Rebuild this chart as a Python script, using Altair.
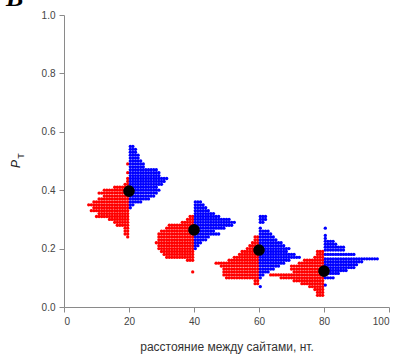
import altair as alt
import pandas as pd

# Site spacing (nt) for each group of measurements
distances = [20, 40, 60, 80]
# Mean P_T for each spacing
mean_pt = [0.397, 0.264, 0.195, 0.123]

# Dot histograms: P_T bin levels and number of dots per bin
red_levels = [
    [0.49, 0.46, 0.44, 0.43, 0.42, 0.41, 0.40, 0.39, 0.38, 0.37, 0.36, 0.35,
     0.34, 0.33, 0.32, 0.31, 0.30, 0.29, 0.28, 0.27, 0.26, 0.25, 0.24],
    [0.31, 0.30, 0.29, 0.28, 0.27, 0.26, 0.25, 0.24, 0.23, 0.22, 0.21, 0.20,
     0.19, 0.18, 0.17, 0.16, 0.12],
    [0.24, 0.23, 0.22, 0.21, 0.20, 0.19, 0.18, 0.17, 0.16, 0.15, 0.14, 0.13,
     0.12, 0.11, 0.10, 0.09, 0.08],
    [0.19, 0.18, 0.17, 0.16, 0.15, 0.14, 0.13, 0.12, 0.11, 0.10, 0.09, 0.08,
     0.07, 0.06, 0.05, 0.04],
]
red_counts = [
    [1, 1, 1, 1, 2, 6, 10, 12, 10, 12, 14, 16, 14, 15, 12, 13, 8, 6, 5, 2, 2, 2, 1],
    [2, 3, 5, 10, 11, 13, 14, 14, 14, 15, 14, 14, 13, 12, 11, 3, 1],
    [2, 2, 3, 4, 5, 7, 8, 10, 12, 17, 15, 14, 14, 14, 13, 2, 2],
    [3, 3, 4, 8, 10, 13, 13, 12, 21, 17, 12, 9, 6, 4, 3, 3],
]
blue_levels = [
    [0.55, 0.54, 0.53, 0.52, 0.51, 0.50, 0.49, 0.48, 0.47, 0.46, 0.45, 0.44,
     0.43, 0.42, 0.41, 0.40, 0.39, 0.38, 0.37, 0.36, 0.35, 0.34],
    [0.36, 0.35, 0.34, 0.33, 0.32, 0.31, 0.30, 0.29, 0.28, 0.27, 0.26, 0.25,
     0.24, 0.23, 0.22, 0.21, 0.20],
    [0.31, 0.30, 0.29, 0.27, 0.26, 0.25, 0.24, 0.23, 0.22, 0.21, 0.20, 0.19,
     0.18, 0.17, 0.16, 0.15, 0.14, 0.13, 0.12, 0.11, 0.10, 0.07],
    [0.27, 0.245, 0.235, 0.225, 0.215, 0.205, 0.195, 0.18, 0.165, 0.155, 0.145,
     0.135, 0.125, 0.115, 0.10, 0.075],
]
blue_counts = [
    [2, 3, 3, 4, 4, 5, 6, 6, 11, 12, 12, 15, 14, 13, 11, 12, 11, 10, 8, 5, 2, 1],
    [3, 4, 5, 6, 8, 10, 14, 16, 15, 12, 8, 10, 6, 5, 3, 2, 1],
    [3, 3, 2, 1, 4, 5, 6, 7, 9, 10, 12, 11, 14, 16, 12, 10, 8, 6, 4, 2, 1, 1],
    [1, 1, 1, 4, 5, 8, 8, 12, 21, 15, 13, 12, 9, 6, 4, 1],
]

DOT_STEP = 0.8  # horizontal spacing of stacked dots, in x units

rows = []
for d, levels, counts in zip(distances, red_levels, red_counts):
    for y, n in zip(levels, counts):
        for k in range(n):
            rows.append({"x": d - (k + 0.5) * DOT_STEP, "y": y, "group": "red"})
for d, levels, counts in zip(distances, blue_levels, blue_counts):
    for y, n in zip(levels, counts):
        for k in range(n):
            rows.append({"x": d + (k + 0.5) * DOT_STEP, "y": y, "group": "blue"})
dots = pd.DataFrame(rows)
means = pd.DataFrame({"x": distances, "y": mean_pt})

x_scale = alt.Scale(domain=[0, 100], nice=False)
y_scale = alt.Scale(domain=[0, 1], nice=False)

x_axis = alt.Axis(values=[0, 20, 40, 60, 80, 100], title="расстояние между сайтами, нт.",
                  labelPadding=4, titlePadding=15, titleFontWeight="normal",
                  titleFontSize=12, titleColor="#333333")
y_axis = alt.Axis(values=[0, 0.2, 0.4, 0.6, 0.8, 1.0], format=".1f", title=None,
                  labelPadding=4)

dot_layer = alt.Chart(dots).mark_circle(size=11, opacity=1).encode(
    x=alt.X("x:Q", scale=x_scale, axis=x_axis),
    y=alt.Y("y:Q", scale=y_scale, axis=y_axis),
    color=alt.Color("group:N", scale=alt.Scale(domain=["red", "blue"],
                                               range=["#ff0000", "#0000ff"]),
                    legend=None),
)

mean_layer = alt.Chart(means).mark_circle(size=135, color="black", opacity=1).encode(
    x=alt.X("x:Q", scale=x_scale),
    y=alt.Y("y:Q", scale=y_scale),
)

label_df = pd.DataFrame({"t": ["P"]})
p_label = alt.Chart(label_df).mark_text(
    text="P", angle=270, fontStyle="italic", fontSize=12, font="Liberation Sans",
    color="#222222", align="center", baseline="middle",
).encode(x=alt.value(-48), y=alt.value(149))
t_label = alt.Chart(label_df).mark_text(
    text="T", angle=270, fontSize=9, font="Liberation Sans",
    color="#222222", align="center", baseline="middle",
).encode(x=alt.value(-43), y=alt.value(141))
panel_label = alt.Chart(label_df).mark_text(
    text="B", fontSize=26, fontWeight="bold", fontStyle="italic",
    font="Liberation Serif", color="black", align="left", baseline="alphabetic",
).encode(x=alt.value(-58), y=alt.value(-9))

chart = alt.layer(dot_layer, mean_layer, p_label, t_label, panel_label).properties(
    width=325, height=292,
    autosize=alt.AutoSizeParams(type="none"),
    padding={"left": 64, "top": 15, "right": 12, "bottom": 48},
).configure_view(stroke=None).configure_axis(
    grid=False, domainColor="#8a8a8a", tickColor="#8a8a8a", tickSize=5,
    labelFont="Liberation Sans", labelFontSize=10, labelColor="#444444",
    titleFont="Liberation Sans",
)

chart.save("out.html", embed_options={"renderer": "svg", "actions": False})
